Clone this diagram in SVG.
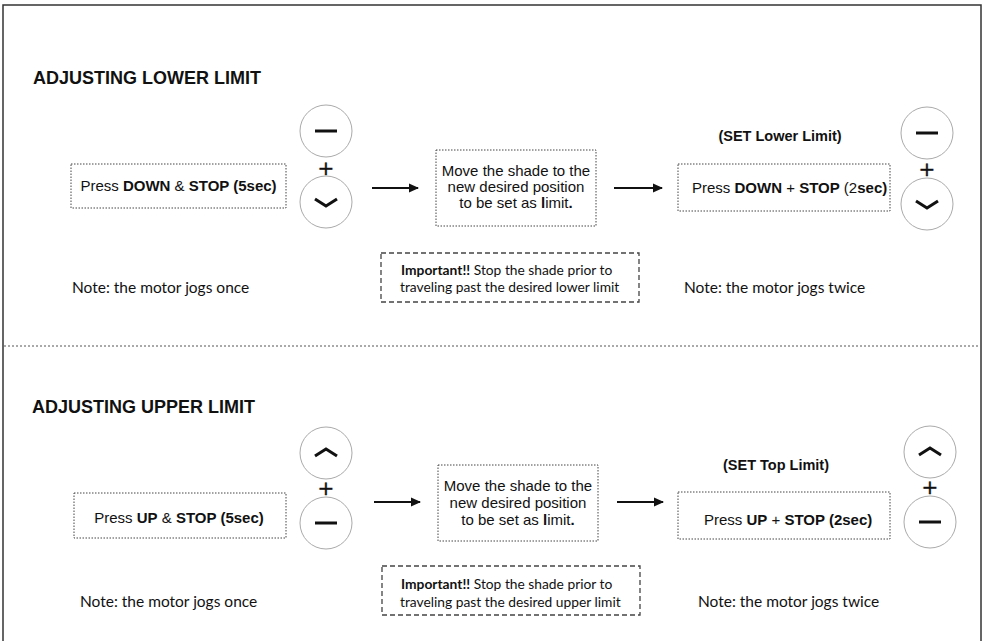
<svg xmlns="http://www.w3.org/2000/svg" width="986" height="641" viewBox="0 0 986 641">
<defs>
<style>
.frame{fill:none;stroke:#333;stroke-width:1.5}
.sep{fill:none;stroke:#555;stroke-width:1;stroke-dasharray:2 2}
.title{font-family:"Liberation Sans",Arial,sans-serif;font-weight:bold;font-size:18px;fill:#111}
.box{fill:#fff;stroke:#444;stroke-width:1;stroke-dasharray:1.5 1.5}
.imp{fill:#fff;stroke:#444;stroke-width:1.3;stroke-dasharray:5 3}
.t{font-family:"Liberation Sans",Arial,sans-serif;font-size:15px;fill:#111}
.b{font-weight:bold}
.lbl{font-family:"Liberation Sans",Arial,sans-serif;font-size:14.5px;font-weight:bold;fill:#111}
.note{font-family:Lato,"Open Sans",sans-serif;font-size:15.5px;fill:#111}
.it{font-family:Lato,"Open Sans",sans-serif;font-size:13.8px;fill:#111}
.btn{fill:#fff;stroke:#aaa;stroke-width:1}
.sym{fill:none;stroke:#111;stroke-width:3;stroke-linecap:butt;stroke-linejoin:miter}
.plus{font-family:"DejaVu Sans","Liberation Sans",sans-serif;font-size:20px;fill:#111;stroke:#111;stroke-width:0.4}
.conn{stroke:#111;stroke-width:2;fill:none}
</style>
<marker id="ah" markerWidth="10" markerHeight="10" refX="9" refY="5" orient="auto" markerUnits="userSpaceOnUse">
<path d="M0,0.5 L10,5 L0,9.5 Z" fill="#111"/>
</marker>
</defs>
<rect x="0" y="0" width="986" height="641" fill="#fff"/>
<rect class="frame" x="3" y="5" width="978" height="660"/>
<line class="sep" x1="4" y1="346" x2="978" y2="346"/>

<g id="section-lower">
<text class="title" x="33" y="84">ADJUSTING LOWER LIMIT</text>
<g id="lower-press">
<rect class="box" x="71" y="164" width="215" height="44"/>
<text class="t" x="178.5" y="191" text-anchor="middle">Press <tspan class="b">DOWN</tspan> &amp; <tspan class="b">STOP (5sec)</tspan></text>
</g>
<g id="lower-buttons-1">
<circle class="btn" cx="326" cy="131" r="26"/>
<line class="sym" x1="315" y1="131" x2="337" y2="131"/>
<text class="plus" x="326" y="175" text-anchor="middle">+</text>
<circle class="btn" cx="326" cy="202" r="26"/>
<polyline class="sym" points="315,199 326,206 337,199"/>
</g>
<g id="lower-move">
<rect class="box" x="436" y="150" width="160" height="76"/>
<text class="t" x="516" y="176" text-anchor="middle">Move the shade to the</text>
<text class="t" x="516" y="192" text-anchor="middle">new desired position</text>
<text class="t" x="516" y="208" text-anchor="middle">to be set as <tspan class="b">l</tspan>imit<tspan class="b">.</tspan></text>
</g>
<g id="lower-set">
<text class="lbl" x="780" y="141" text-anchor="middle">(SET Lower Limit)</text>
<rect class="box" x="678" y="164" width="212" height="47"/>
<text class="t" x="692" y="193">Press <tspan class="b">DOWN</tspan> + <tspan class="b">STOP</tspan> (2<tspan class="b">sec)</tspan></text>
</g>
<g id="lower-buttons-2">
<circle class="btn" cx="927" cy="133" r="26"/>
<line class="sym" x1="916" y1="133" x2="938" y2="133"/>
<text class="plus" x="927" y="176" text-anchor="middle">+</text>
<circle class="btn" cx="927" cy="204" r="26"/>
<polyline class="sym" points="916,201 927,208 938,201"/>
</g>
<g id="lower-important">
<rect class="imp" x="381" y="253" width="258" height="49"/>
<text class="it" x="401" y="275"><tspan class="b">Important!!</tspan> Stop the shade prior to</text>
<text class="it" x="400" y="292">traveling past the desired lower limit</text>
</g>
<text class="note" x="72" y="293">Note: the motor jogs once</text>
<text class="note" x="684" y="293">Note: the motor jogs twice</text>
</g>

<g id="section-upper">
<text class="title" x="32" y="413">ADJUSTING UPPER LIMIT</text>
<g id="upper-press">
<rect class="box" x="74" y="493" width="212" height="45"/>
<text class="t" x="179" y="523" text-anchor="middle">Press <tspan class="b">UP</tspan> &amp; <tspan class="b">STOP (5sec)</tspan></text>
</g>
<g id="upper-buttons-1">
<circle class="btn" cx="326" cy="453" r="26"/>
<polyline class="sym" points="315,456 326,449 337,456"/>
<text class="plus" x="326" y="495" text-anchor="middle">+</text>
<circle class="btn" cx="326" cy="523" r="26"/>
<line class="sym" x1="315" y1="523" x2="337" y2="523"/>
</g>
<g id="upper-move">
<rect class="box" x="438" y="465" width="160" height="76"/>
<text class="t" x="518" y="491" text-anchor="middle">Move the shade to the</text>
<text class="t" x="518" y="508" text-anchor="middle">new desired position</text>
<text class="t" x="518" y="525" text-anchor="middle">to be set as <tspan class="b">l</tspan>imit<tspan class="b">.</tspan></text>
</g>
<g id="upper-set">
<text class="lbl" x="776" y="470" text-anchor="middle">(SET Top Limit)</text>
<rect class="box" x="678" y="492" width="212" height="47"/>
<text class="t" x="704" y="525">Press <tspan class="b">UP</tspan> + <tspan class="b">STOP (2sec)</tspan></text>
</g>
<g id="upper-buttons-2">
<circle class="btn" cx="930" cy="452" r="26"/>
<polyline class="sym" points="919,455 930,448 941,455"/>
<text class="plus" x="930" y="494" text-anchor="middle">+</text>
<circle class="btn" cx="930" cy="522" r="26"/>
<line class="sym" x1="919" y1="522" x2="941" y2="522"/>
</g>
<g id="upper-important">
<rect class="imp" x="382" y="566" width="258" height="49"/>
<text class="it" x="401" y="589"><tspan class="b">Important!!</tspan> Stop the shade prior to</text>
<text class="it" x="400" y="607">traveling past the desired upper limit</text>
</g>
<text class="note" x="80" y="607">Note: the motor jogs once</text>
<text class="note" x="698" y="607">Note: the motor jogs twice</text>
</g>

<g id="connectors">
<line class="conn" x1="372" y1="188" x2="418" y2="188" marker-end="url(#ah)"/>
<line class="conn" x1="614" y1="188" x2="662" y2="188" marker-end="url(#ah)"/>
<line class="conn" x1="374" y1="502" x2="420" y2="502" marker-end="url(#ah)"/>
<line class="conn" x1="617" y1="502" x2="663" y2="502" marker-end="url(#ah)"/>
</g>
</svg>
